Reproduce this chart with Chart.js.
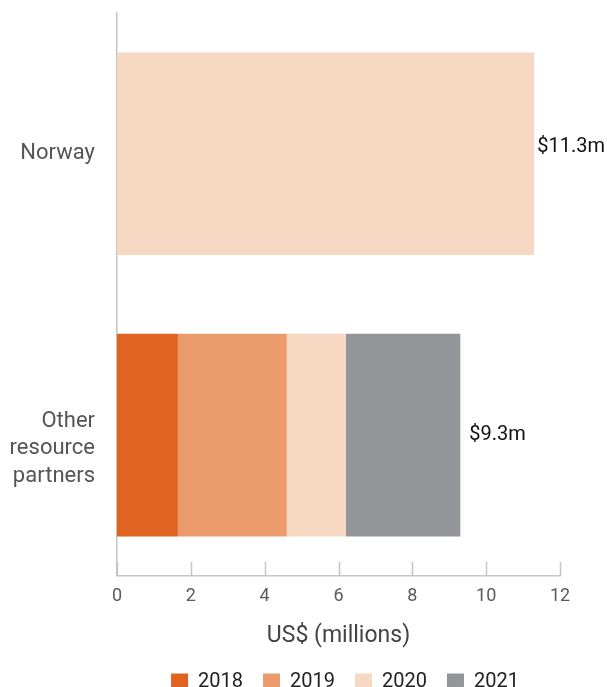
<!DOCTYPE html>
<html>
<head>
<meta charset="utf-8">
<script src="https://cdn.jsdelivr.net/npm/chart.js@4"></script>
<style>
  html, body { margin: 0; padding: 0; background: #fff; }
  #wrap { width: 607px; height: 687px; }
</style>
</head>
<body>
<div id="wrap"><canvas id="chart" width="607" height="687"></canvas></div>
<script>
// categories (y axis); leading blank line drops the block a little, like the original
var categories = ['Norway', ['', 'Other', 'resource', 'partners']];

// series values, US$ millions
var years = ['2018', '2019', '2020', '2021'];
var values2018 = [null, 1.65];
var values2019 = [null, 2.95];
var values2020 = [11.3, 1.6];
var values2021 = [null, 3.1];

var colors = ['#e0631f', '#eb9b6b', '#f7d8c3', '#949599'];

// x axis ticks
var xTicks = [0, 2, 4, 6, 8, 10, 12];

var FONT = 'Roboto, "Liberation Sans", sans-serif';

// small inward tick marks on the x axis
var innerTicks = {
    id: 'innerTicks',
    afterDraw: function(chart) {
        var ctx = chart.ctx;
        var x = chart.scales.x;
        var bottom = chart.chartArea.bottom;
        ctx.save();
        ctx.strokeStyle = '#c4c4c4';
        ctx.lineWidth = 1.5;
        xTicks.forEach(function(t) {
            var px = Math.round(x.getPixelForValue(t)) + 0.5;
            ctx.beginPath();
            ctx.moveTo(px, bottom);
            ctx.lineTo(px, bottom - 14);
            ctx.stroke();
        });
        ctx.restore();
    }
};

// "$x.xm" totals at the end of each stacked bar
var totalLabels = {
    id: 'totalLabels',
    afterDatasetsDraw: function(chart) {
        var ctx = chart.ctx;
        ctx.save();
        ctx.font = '20px ' + FONT;
        ctx.fillStyle = '#111';
        ctx.textBaseline = 'middle';
        ctx.textAlign = 'left';
        categories.forEach(function(c, i) {
            var total = 0, endX = null, y = null;
            chart.data.datasets.forEach(function(ds, d) {
                var v = ds.data[i];
                if (!v) return;
                total += v;
                var el = chart.getDatasetMeta(d).data[i];
                if (endX === null || el.x > endX) { endX = el.x; y = el.y; }
            });
            if (endX !== null) {
                ctx.fillText('$' + total.toFixed(1) + 'm', endX + (i === 0 ? 3 : 9), y - (i === 0 ? 7 : 0));
            }
        });
        ctx.restore();
    }
};

// legend sits centred under the plot, not the canvas
var legendShift = {
    id: 'legendShift',
    afterLayout: function(chart) {
        chart.legend.left += 65;
        chart.legend.right += 65;
    }
};

var seriesData = [values2018, values2019, values2020, values2021];

new Chart(document.getElementById('chart'), {
    type: 'bar',
    data: {
        labels: categories,
        datasets: years.map(function(y, i) {
            return {
                label: y,
                data: seriesData[i],
                backgroundColor: colors[i],
                borderWidth: 0,
                categoryPercentage: 0.72,
                barPercentage: 1.0
            };
        })
    },
    options: {
        indexAxis: 'y',
        responsive: false,
        animation: false,
        layout: {
            padding: { top: 13, right: 47, left: 0, bottom: -15 }
        },
        plugins: {
            legend: {
                position: 'bottom',
                labels: {
                    boxWidth: 17,
                    boxHeight: 17,
                    padding: 20,
                    color: '#222',
                    font: { family: FONT, size: 20 }
                }
            },
            tooltip: { enabled: false }
        },
        scales: {
            x: {
                stacked: true,
                min: 0,
                max: 12,
                grid: { display: false, drawTicks: false },
                border: { display: true, color: '#c4c4c4', width: 1.5 },
                ticks: {
                    stepSize: 2,
                    padding: 10,
                    color: '#5a5a5a',
                    font: { family: FONT, size: 18 }
                },
                title: {
                    display: true,
                    text: 'US$ (millions)',
                    color: '#444',
                    font: { family: FONT, size: 23 },
                    padding: { top: 5, bottom: 2 }
                }
            },
            y: {
                stacked: true,
                grid: { display: false, drawTicks: false },
                border: { display: true, color: '#c4c4c4', width: 1.5 },
                ticks: {
                    padding: 22,
                    color: '#555',
                    font: { family: FONT, size: 22, lineHeight: 1.25 }
                },
                afterFit: function(scale) {
                    // multi-line labels should not push the plot area in
                    scale.paddingTop = 0;
                    scale.paddingBottom = 0;
                    scale.width = 117;
                }
            }
        }
    },
    plugins: [innerTicks, totalLabels, legendShift]
});
</script>
</body>
</html>
